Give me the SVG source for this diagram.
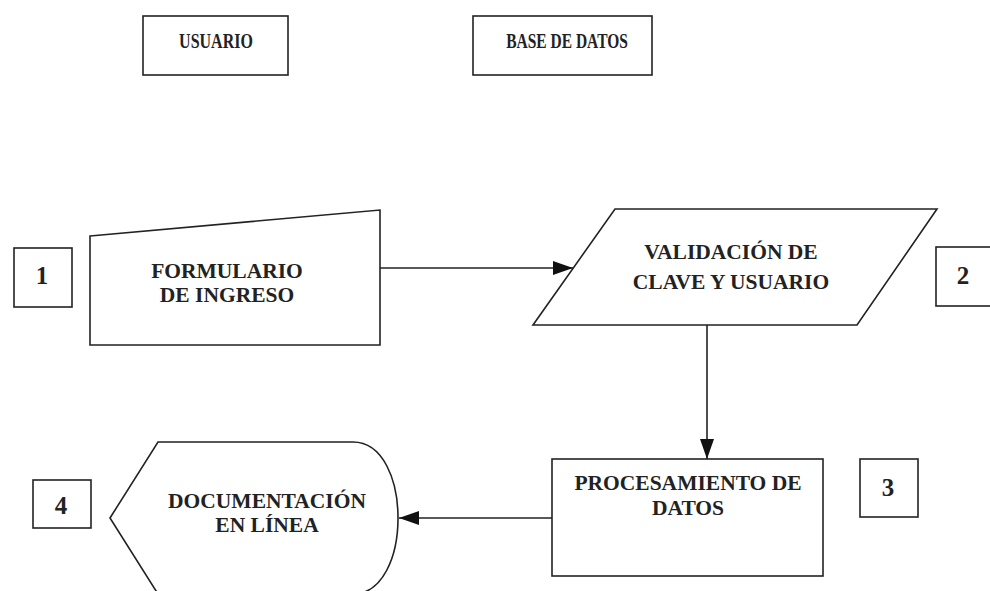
<svg xmlns="http://www.w3.org/2000/svg" width="990" height="591" viewBox="0 0 990 591">
<style>
.s{fill:#fff;stroke:#222;stroke-width:1.6}
.t{font-family:"Liberation Serif","Times New Roman",serif;font-weight:bold;fill:#222;text-anchor:middle}
.m{font-size:21.5px}
.n{font-size:25px}
.c{fill:none;stroke:#222;stroke-width:1.6}
</style>
<defs>
<marker id="ah" viewBox="0 0 20 14" refX="20" refY="7" markerWidth="20" markerHeight="14" markerUnits="userSpaceOnUse" orient="auto">
<path d="M0,0 L20,7 L0,14 Z" fill="#111"/>
</marker>
</defs>
<rect width="990" height="591" fill="#fff"/>
<g id="usuario">
<rect class="s" x="143" y="16" width="145" height="59"/>
<text class="t" transform="translate(216,48) scale(1,1.35)" font-size="16">USUARIO</text>
</g>
<g id="base-datos">
<rect class="s" x="473" y="16" width="179" height="59"/>
<text class="t" transform="translate(567,48) scale(1,1.35)" font-size="15.5">BASE DE DATOS</text>
</g>
<g id="connectors">
<line class="c" x1="380" y1="268" x2="573" y2="268" marker-end="url(#ah)"/>
<line class="c" x1="707" y1="325" x2="707" y2="459" marker-end="url(#ah)"/>
<line class="c" x1="552" y1="518" x2="399" y2="518" marker-end="url(#ah)"/>
</g>
<g id="n1">
<rect class="s" x="14" y="248" width="58" height="59"/>
<text class="t n" x="42" y="284">1</text>
</g>
<g id="formulario">
<polygon class="s" points="90,236 380,210 380,345 90,345"/>
<text class="t m" x="227" y="278">FORMULARIO</text>
<text class="t m" x="227" y="302">DE INGRESO</text>
</g>
<g id="validacion">
<polygon class="s" points="615,209 937,209 857,325 533,325"/>
<text class="t m" x="731" y="259">VALIDACIÓN DE</text>
<text class="t m" x="731" y="289">CLAVE Y USUARIO</text>
</g>
<g id="n2">
<rect class="s" x="936" y="247" width="58" height="59"/>
<text class="t n" x="963" y="284">2</text>
</g>
<g id="procesamiento">
<rect class="s" x="552" y="459" width="271" height="117"/>
<text class="t m" x="688" y="490">PROCESAMIENTO DE</text>
<text class="t m" x="688" y="515">DATOS</text>
</g>
<g id="n3">
<rect class="s" x="860" y="459" width="58" height="58"/>
<text class="t n" x="888" y="496">3</text>
</g>
<g id="documentacion">
<path class="s" d="M110,518 L158,442 L353,442 C383,442 398,480 398,518 C398,556 383,594 353,594 L158,594 Z"/>
<text class="t m" x="267" y="508">DOCUMENTACIÓN</text>
<text class="t m" x="267" y="532">EN LÍNEA</text>
</g>
<g id="n4">
<rect class="s" x="33" y="480" width="58" height="48"/>
<text class="t n" x="61" y="514">4</text>
</g>
</svg>
